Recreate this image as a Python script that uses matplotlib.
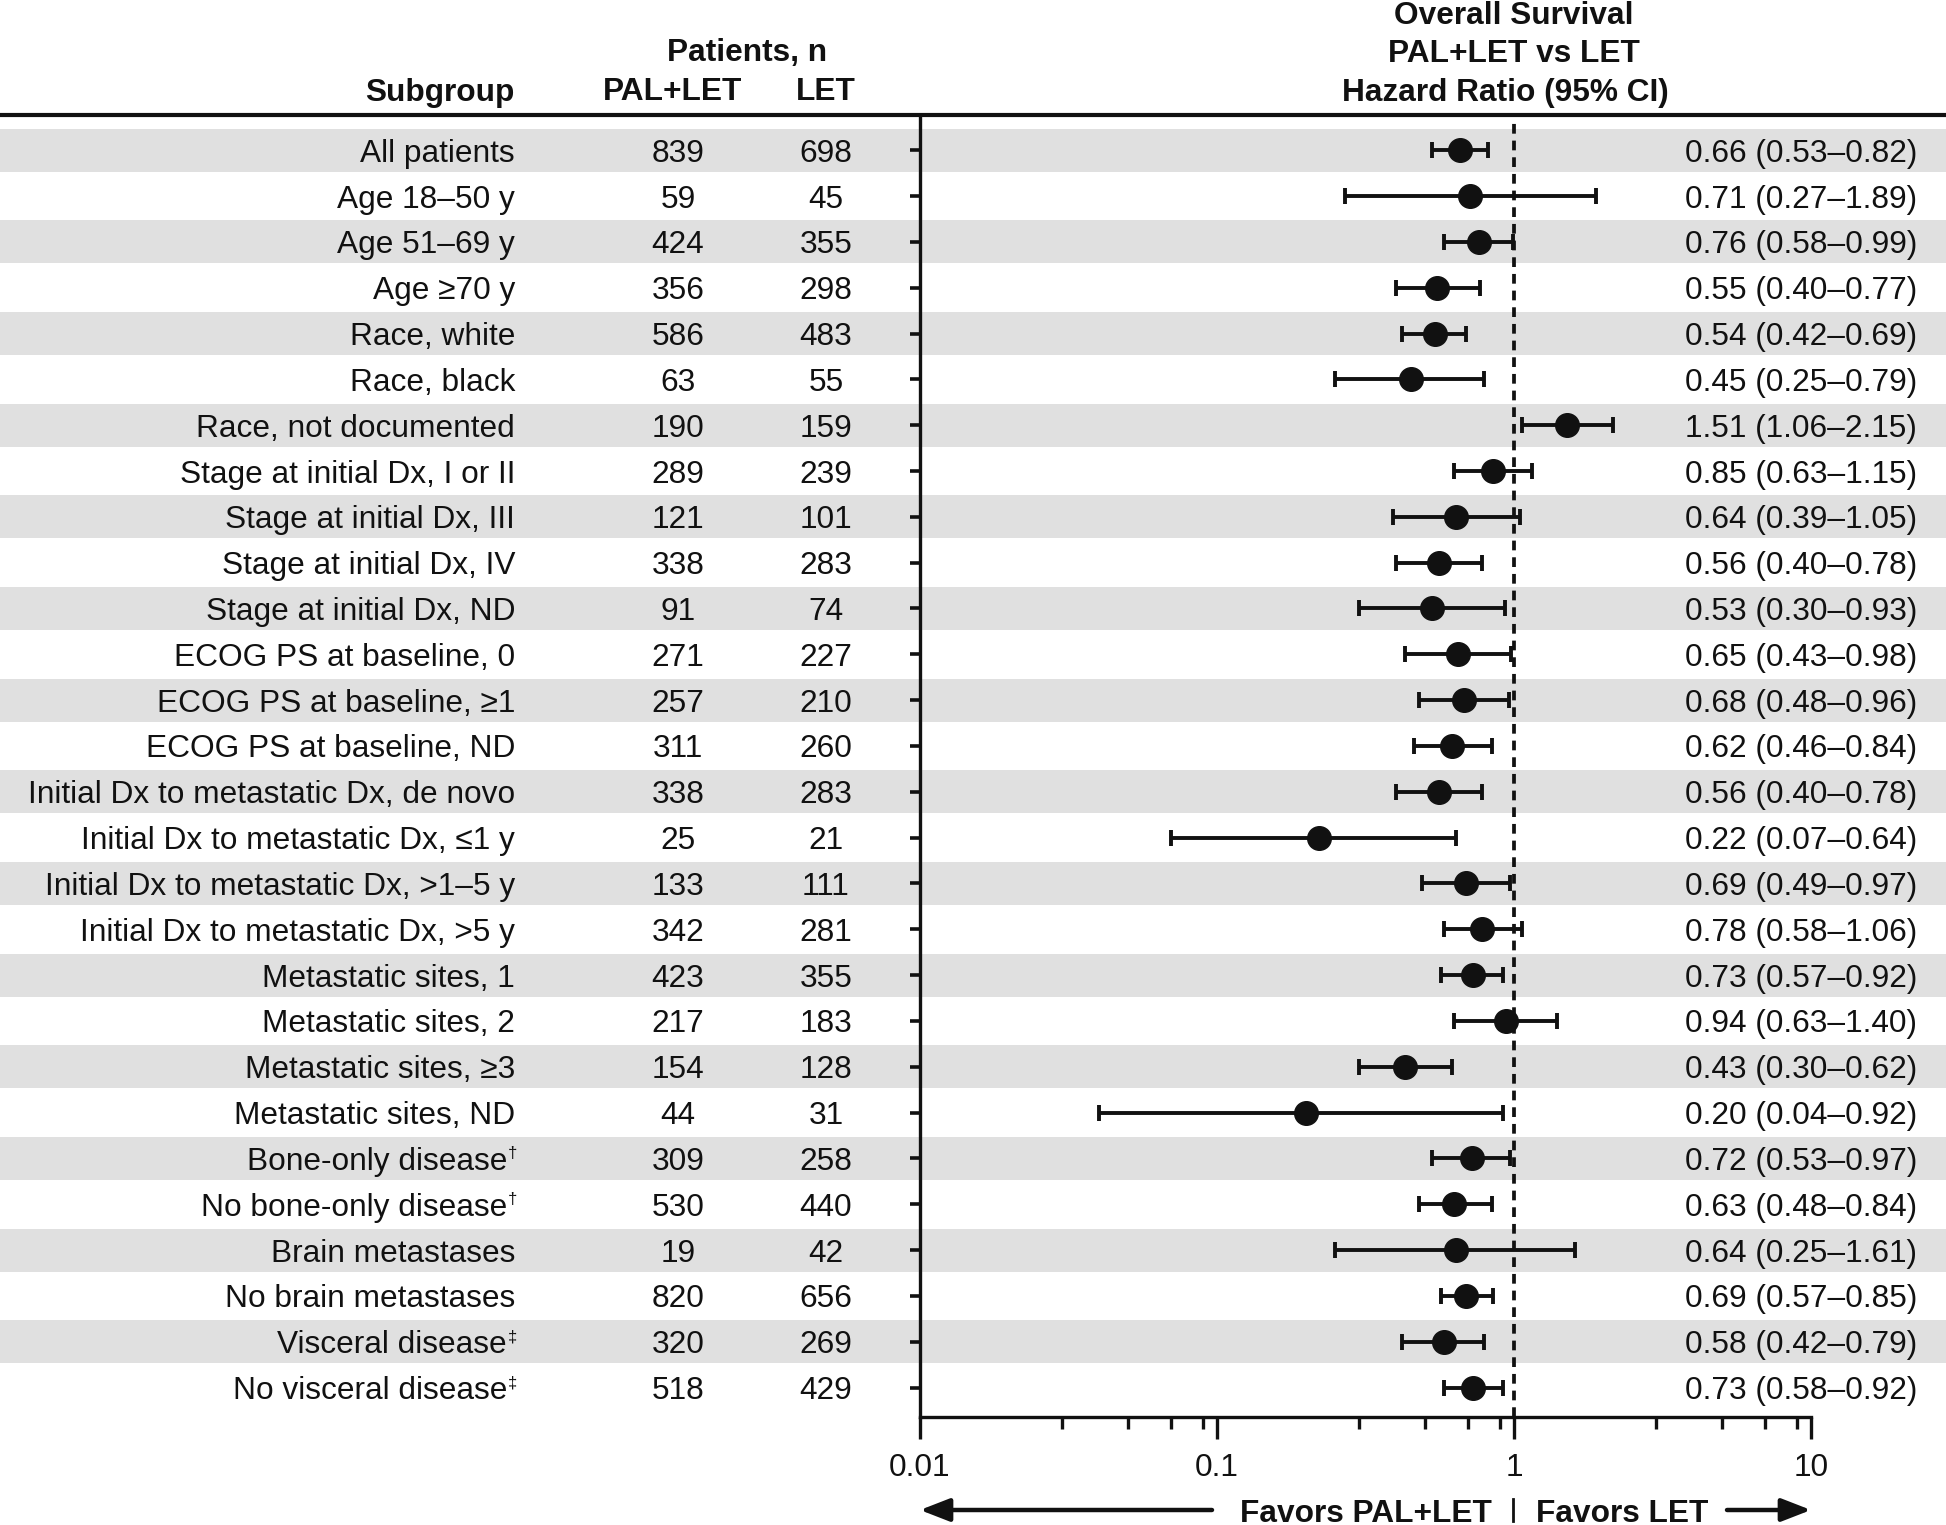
import matplotlib
matplotlib.use('Agg')
import matplotlib.pyplot as plt
from matplotlib.transforms import blended_transform_factory, offset_copy
from matplotlib.patches import Rectangle
from matplotlib.lines import Line2D
import numpy as np

plt.rcParams['font.family'] = ['Liberation Sans', 'DejaVu Sans']
plt.rcParams['lines.scale_dashes'] = False

subgroups = [
    "All patients", "Age 18\u201350 y", "Age 51\u201369 y", "Age \u226570 y",
    "Race, white", "Race, black", "Race, not documented",
    "Stage at initial Dx, I or II", "Stage at initial Dx, III",
    "Stage at initial Dx, IV", "Stage at initial Dx, ND",
    "ECOG PS at baseline, 0", "ECOG PS at baseline, \u22651", "ECOG PS at baseline, ND",
    "Initial Dx to metastatic Dx, de novo", "Initial Dx to metastatic Dx, \u22641 y",
    "Initial Dx to metastatic Dx, >1\u20135 y", "Initial Dx to metastatic Dx, >5 y",
    "Metastatic sites, 1", "Metastatic sites, 2", "Metastatic sites, \u22653",
    "Metastatic sites, ND", "Bone-only disease", "No bone-only disease",
    "Brain metastases", "No brain metastases", "Visceral disease", "No visceral disease",
]
footnote_marks = ["", "", "", "", "", "", "", "", "", "", "", "", "", "", "", "", "", "",
                  "", "", "", "", "\u2020", "\u2020", "", "", "\u2021", "\u2021"]
n_pal_let = [839, 59, 424, 356, 586, 63, 190, 289, 121, 338, 91, 271, 257, 311,
             338, 25, 133, 342, 423, 217, 154, 44, 309, 530, 19, 820, 320, 518]
n_let = [698, 45, 355, 298, 483, 55, 159, 239, 101, 283, 74, 227, 210, 260,
         283, 21, 111, 281, 355, 183, 128, 31, 258, 440, 42, 656, 269, 429]
hr = [0.66, 0.71, 0.76, 0.55, 0.54, 0.45, 1.51, 0.85, 0.64, 0.56, 0.53, 0.65, 0.68, 0.62,
      0.56, 0.22, 0.69, 0.78, 0.73, 0.94, 0.43, 0.20, 0.72, 0.63, 0.64, 0.69, 0.58, 0.73]
ci_low = [0.53, 0.27, 0.58, 0.40, 0.42, 0.25, 1.06, 0.63, 0.39, 0.40, 0.30, 0.43, 0.48, 0.46,
          0.40, 0.07, 0.49, 0.58, 0.57, 0.63, 0.30, 0.04, 0.53, 0.48, 0.25, 0.57, 0.42, 0.58]
ci_high = [0.82, 1.89, 0.99, 0.77, 0.69, 0.79, 2.15, 1.15, 1.05, 0.78, 0.93, 0.98, 0.96, 0.84,
           0.78, 0.64, 0.97, 1.06, 0.92, 1.40, 0.62, 0.92, 0.97, 0.84, 1.61, 0.85, 0.79, 0.92]
x_major_ticks = [0.01, 0.1, 1, 10]
x_major_labels = ["0.01", "0.1", "1", "10"]
x_minor_ticks = [0.03, 0.05, 0.07, 0.09, 0.3, 0.5, 0.7, 0.9, 3, 5, 7, 9]

W, H = 1946, 1525
fig = plt.figure(figsize=(W / 100, H / 100), dpi=100)
fig.patch.set_facecolor('white')


def fx(p):
    return p / W


def fy(p):
    return 1 - p / H


FS = 22.8
INK = '#111111'

ax = fig.add_axes([fx(920), fy(1417), fx(1811) - fx(920), fy(118) - fy(1417)])
ax.patch.set_visible(False)
n = len(subgroups)
ys = np.arange(n)
row0, step = 150.2, 45.83
ax.set_ylim((1417 - row0) / step, (118 - row0) / step)
ax.set_xscale('log')
ax.set_xlim(0.01, 10)

trans_row = blended_transform_factory(fig.transFigure, ax.transData)

# shaded bands
for i in ys:
    if i % 2 == 0:
        ax.add_patch(Rectangle((0, i - 0.47), 1, 0.94, transform=trans_row,
                               facecolor='#e0e0e0', edgecolor='none', zorder=0,
                               clip_on=False))

hr_a = np.array(hr)
lo_a = np.array(ci_low)
hi_a = np.array(ci_high)
ax.errorbar(hr_a, ys, xerr=[hr_a - lo_a, hi_a - hr_a], fmt='o', color=INK,
            ms=17, elinewidth=2.8, capsize=6, capthick=2.8, zorder=3)
ax.axvline(1, color=INK, lw=2.7, dashes=(7, 5), zorder=2)

for s in ['top', 'right']:
    ax.spines[s].set_visible(False)
for s in ['left', 'bottom']:
    ax.spines[s].set_linewidth(2.4)
    ax.spines[s].set_color(INK)

ax.set_yticks(ys)
ax.set_yticklabels([])
ax.tick_params(axis='y', direction='out', length=7.5, width=2.6, color=INK)
ax.set_xticks(x_major_ticks)
ax.set_xticklabels(x_major_labels)
ax.set_xticks(x_minor_ticks, minor=True)
ax.xaxis.set_minor_formatter(matplotlib.ticker.NullFormatter())
ax.tick_params(axis='x', which='major', direction='out', length=16, width=2.4,
               color=INK, labelsize=FS, pad=10, labelcolor=INK)
ax.tick_params(axis='x', which='minor', direction='out', length=8.6, width=2.4, color=INK)

# table text
sup_trans = offset_copy(trans_row, fig=fig, x=0, y=4.5, units='points')
for i in ys:
    mark = footnote_marks[i]
    right = 515 - (8 if mark else 0)
    fig.text(fx(right), i, subgroups[i], transform=trans_row, ha='right',
             va='center_baseline', fontsize=FS, color=INK)
    if mark:
        fig.text(fx(right + 1), i, mark, transform=sup_trans, ha='left',
                 va='center_baseline', fontsize=12, color=INK)
    fig.text(fx(678), i, str(n_pal_let[i]), transform=trans_row, ha='center',
             va='center_baseline', fontsize=FS, color=INK)
    fig.text(fx(826), i, str(n_let[i]), transform=trans_row, ha='center',
             va='center_baseline', fontsize=FS, color=INK)
    fig.text(fx(1917), i, f"{hr[i]:.2f} ({ci_low[i]:.2f}\u2013{ci_high[i]:.2f})",
             transform=trans_row, ha='right', va='center_baseline', fontsize=FS, color=INK)

# headers
hdr = dict(fontsize=FS, fontweight='bold', color=INK, va='center_baseline')
fig.text(fx(1514), fy(13), "Overall Survival", ha='center', **hdr)
fig.text(fx(1514), fy(51), "PAL+LET vs LET", ha='center', **hdr)
fig.text(fx(1505), fy(89), "Hazard Ratio (95% CI)", ha='center', **hdr)
fig.text(fx(747), fy(49), "Patients, n", ha='center', **hdr)
fig.text(fx(515), fy(89), "Subgroup", ha='right', **hdr)
fig.text(fx(673), fy(89), "PAL+LET", ha='center', **hdr)
fig.text(fx(826), fy(89), "LET", ha='center', **hdr)
fig.add_artist(Line2D([0, 1], [fy(115), fy(115)], transform=fig.transFigure,
                      lw=3, color=INK))

# favors row
yb = fy(1510)
fig.text(fx(1492), yb, "Favors PAL+LET", ha='right', **hdr)
fig.text(fx(1536), yb, "Favors LET", ha='left', **hdr)
fig.add_artist(Line2D([fx(1513), fx(1513)], [fy(1499), fy(1521)], transform=fig.transFigure,
                      lw=2, color=INK))
ap = dict(arrowstyle='-|>,head_length=0.9,head_width=0.35', lw=3.2, color=INK,
          shrinkA=0, shrinkB=0, mutation_scale=20)
ax.annotate('', xy=(fx(920), yb), xytext=(fx(1212), yb), xycoords='figure fraction',
            textcoords='figure fraction', arrowprops=ap, annotation_clip=False)
ax.annotate('', xy=(fx(1811), yb), xytext=(fx(1727), yb), xycoords='figure fraction',
            textcoords='figure fraction', arrowprops=ap, annotation_clip=False)

fig.savefig('out.png', dpi=100, facecolor='white')
